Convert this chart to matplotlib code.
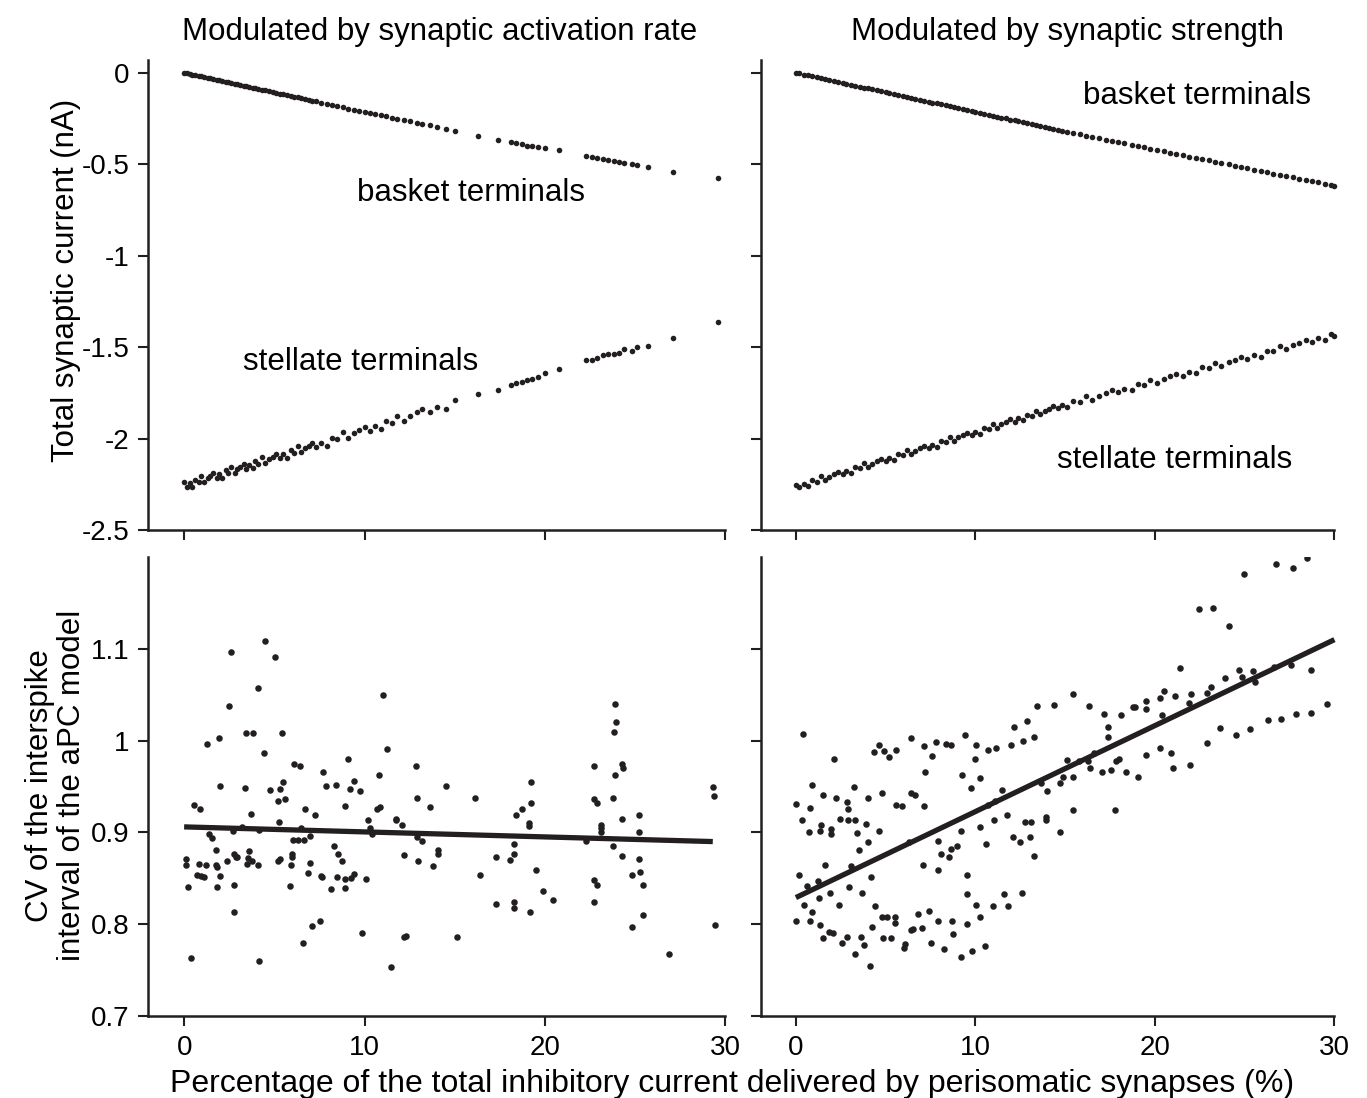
import numpy as np
import matplotlib.pyplot as plt

plt.rcParams['font.family'] = ['Liberation Sans', 'DejaVu Sans']
plt.rcParams['axes.unicode_minus'] = False

ink = '#231f20'

# top row, left: modulated by activation rate
top_rate_pct = [0.00, 0.15, 0.30, 0.45, 0.60, 0.80, 0.95, 1.10, 1.30, 1.45, 1.60, 1.80, 1.95, 2.10, 2.30,
                2.45, 2.60, 2.80, 2.95, 3.10, 3.30, 3.45, 3.60, 3.80, 3.95, 4.10, 4.30, 4.50, 4.70, 4.90,
                5.10, 5.30, 5.50, 5.70, 5.90, 6.10, 6.30, 6.50, 6.70, 6.90, 7.10, 7.30, 7.60, 7.90, 8.20,
                8.50, 8.80, 9.10, 9.40, 9.70, 10.00, 10.30, 10.60, 10.90, 11.20, 11.50, 11.80, 12.20, 12.50,
                12.90, 13.20, 13.60, 14.00, 14.50, 15.00, 16.30, 17.40, 18.10, 18.40, 18.70, 19.00, 19.30,
                19.60, 20.00, 20.80, 22.30, 22.60, 22.90, 23.20, 23.50, 23.80, 24.10, 24.40, 24.80, 25.10,
                25.70, 27.10, 29.60]
basket_rate = [0.000, -0.003, -0.006, -0.010, -0.013, -0.017, -0.020, -0.024, -0.028, -0.031, -0.034, -0.039,
               -0.042, -0.045, -0.049, -0.053, -0.056, -0.060, -0.063, -0.067, -0.071, -0.074, -0.077, -0.082,
               -0.085, -0.088, -0.092, -0.097, -0.101, -0.105, -0.110, -0.114, -0.118, -0.123, -0.127, -0.131,
               -0.135, -0.140, -0.144, -0.148, -0.153, -0.157, -0.163, -0.170, -0.176, -0.183, -0.189, -0.196,
               -0.202, -0.209, -0.215, -0.221, -0.227, -0.233, -0.239, -0.245, -0.251, -0.259, -0.265, -0.273,
               -0.279, -0.287, -0.295, -0.305, -0.318, -0.345, -0.367, -0.380, -0.386, -0.392, -0.398, -0.403,
               -0.408, -0.413, -0.424, -0.457, -0.462, -0.468, -0.473, -0.478, -0.483, -0.489, -0.494, -0.501,
               -0.506, -0.516, -0.540, -0.576]
stellate_rate = [-2.238, -2.264, -2.243, -2.264, -2.225, -2.238, -2.203, -2.239, -2.217, -2.203, -2.190, -2.214,
                 -2.193, -2.215, -2.174, -2.188, -2.154, -2.187, -2.167, -2.153, -2.138, -2.164, -2.143, -2.163,
                 -2.124, -2.138, -2.102, -2.136, -2.114, -2.099, -2.084, -2.108, -2.086, -2.106, -2.065, -2.078,
                 -2.042, -2.076, -2.054, -2.039, -2.024, -2.048, -2.023, -2.039, -1.995, -2.005, -1.966, -1.997,
                 -1.972, -1.954, -1.936, -1.957, -1.932, -1.949, -1.905, -1.915, -1.876, -1.904, -1.879, -1.857,
                 -1.839, -1.857, -1.829, -1.840, -1.790, -1.758, -1.734, -1.705, -1.697, -1.690, -1.679, -1.672,
                 -1.661, -1.640, -1.620, -1.572, -1.568, -1.558, -1.545, -1.540, -1.535, -1.532, -1.513, -1.519,
                 -1.500, -1.492, -1.452, -1.364]

# top row, right: modulated by synaptic strength
top_strength_pct = [0.00, 0.20, 0.45, 0.70, 0.90, 1.15, 1.40, 1.60, 1.85, 2.10, 2.35, 2.60, 2.80, 3.05, 3.30,
                    3.55, 3.80, 4.00, 4.25, 4.50, 4.75, 5.00, 5.20, 5.45, 5.70, 5.95, 6.20, 6.40, 6.65, 6.90,
                    7.15, 7.40, 7.60, 7.85, 8.10, 8.35, 8.60, 8.80, 9.05, 9.30, 9.55, 9.80, 10.00, 10.25, 10.50,
                    10.75, 11.00, 11.20, 11.45, 11.70, 11.95, 12.20, 12.40, 12.65, 12.90, 13.15, 13.40, 13.60,
                    13.85, 14.10, 14.35, 14.60, 14.85, 15.10, 15.45, 15.80, 16.15, 16.50, 16.90, 17.25, 17.60,
                    17.95, 18.30, 18.70, 19.05, 19.40, 19.75, 20.10, 20.50, 20.85, 21.20, 21.55, 21.90, 22.30,
                    22.65, 23.00, 23.35, 23.70, 24.10, 24.45, 24.80, 25.15, 25.50, 25.90, 26.25, 26.60, 26.95,
                    27.30, 27.70, 28.05, 28.40, 28.75, 29.10, 29.50, 29.80, 30.00]
basket_strength = [0.000, -0.004, -0.010, -0.015, -0.019, -0.025, -0.030, -0.034, -0.040, -0.045, -0.050, -0.056,
                   -0.060, -0.065, -0.071, -0.076, -0.081, -0.086, -0.091, -0.096, -0.102, -0.107, -0.111, -0.117,
                   -0.122, -0.127, -0.133, -0.137, -0.142, -0.148, -0.153, -0.158, -0.163, -0.168, -0.173, -0.179,
                   -0.184, -0.188, -0.194, -0.199, -0.204, -0.210, -0.214, -0.219, -0.225, -0.230, -0.235, -0.240,
                   -0.245, -0.250, -0.256, -0.261, -0.265, -0.271, -0.276, -0.281, -0.287, -0.291, -0.296, -0.302,
                   -0.307, -0.312, -0.318, -0.323, -0.330, -0.337, -0.344, -0.351, -0.359, -0.366, -0.372, -0.379,
                   -0.386, -0.394, -0.401, -0.408, -0.415, -0.422, -0.430, -0.437, -0.444, -0.451, -0.458, -0.466,
                   -0.472, -0.479, -0.486, -0.493, -0.501, -0.508, -0.515, -0.522, -0.529, -0.537, -0.544, -0.551,
                   -0.558, -0.565, -0.572, -0.579, -0.586, -0.593, -0.600, -0.608, -0.614, -0.618]
stellate_strength = [-2.253, -2.267, -2.249, -2.259, -2.229, -2.235, -2.207, -2.228, -2.210, -2.196, -2.183,
                     -2.195, -2.178, -2.189, -2.157, -2.163, -2.135, -2.156, -2.138, -2.124, -2.111, -2.123,
                     -2.106, -2.117, -2.085, -2.091, -2.063, -2.084, -2.066, -2.052, -2.039, -2.051, -2.034,
                     -2.045, -2.013, -2.019, -1.991, -2.012, -1.994, -1.980, -1.967, -1.979, -1.962, -1.973,
                     -1.941, -1.947, -1.919, -1.940, -1.922, -1.908, -1.895, -1.907, -1.890, -1.901, -1.869,
                     -1.875, -1.847, -1.868, -1.850, -1.836, -1.823, -1.835, -1.817, -1.827, -1.795, -1.799,
                     -1.770, -1.788, -1.767, -1.752, -1.737, -1.748, -1.728, -1.736, -1.703, -1.707, -1.678,
                     -1.696, -1.675, -1.660, -1.645, -1.656, -1.636, -1.644, -1.611, -1.615, -1.586, -1.604,
                     -1.583, -1.568, -1.553, -1.564, -1.544, -1.552, -1.519, -1.523, -1.494, -1.512, -1.491,
                     -1.476, -1.461, -1.472, -1.452, -1.460, -1.429, -1.437]

# bottom row, left: CV vs percentage (activation rate)
cv_rate_pct = [4.50, 2.61, 5.02, 4.12, 2.46, 1.25, 1.93, 3.44, 3.79, 5.42, 4.41, 6.10, 6.40, 9.10, 7.67, 1.97,
               3.40, 4.76, 5.30, 5.50, 7.87, 8.44, 9.40, 9.17, 0.53, 0.88, 5.22, 5.59, 3.73, 6.69, 7.26, 8.94,
               5.26, 3.18, 2.72, 4.16, 6.49, 1.40, 1.54, 6.01, 6.29, 6.64, 6.95, 1.77, 0.11, 0.11, 0.83, 1.21,
               1.78, 1.80, 2.37, 2.76, 2.87, 2.94, 3.59, 3.53, 3.49, 3.77, 4.08, 5.22, 5.30, 5.92, 5.98, 5.98,
               8.29, 8.55, 8.77, 6.97, 0.74, 0.92, 1.12, 1.97, 1.84, 0.20, 2.76, 5.85, 6.86, 7.58, 7.65, 8.46,
               8.16, 8.94, 8.94, 9.25, 9.43, 2.78, 7.10, 7.54, 6.58, 0.37, 4.16,
               11.03, 11.27, 12.83, 10.79, 9.76, 14.54, 12.89, 16.11, 19.23, 19.23, 18.74, 18.37, 19.12, 19.12,
               13.61, 10.68, 10.87, 10.19, 11.73, 11.75, 12.10, 10.30, 10.39, 12.89, 13.16, 18.28, 18.28, 18.04,
               17.30, 12.19, 12.96, 14.05, 14.05, 13.81, 16.40, 19.51, 10.06, 19.91, 20.46, 17.28, 18.28, 18.28,
               19.16, 9.85, 12.19, 12.28, 15.15, 11.49,
               23.88, 23.92, 23.85, 22.74, 24.29, 24.31, 23.90, 22.74, 22.91, 23.77, 24.25, 25.21, 25.21, 29.33,
               29.38, 23.11, 23.11, 23.11, 22.28, 23.75, 24.27, 25.21, 24.80, 25.24, 22.69, 22.89, 25.45, 22.69,
               25.43, 24.80, 29.45, 26.86]
cv_rate = [1.109, 1.096, 1.091, 1.057, 1.038, 0.996, 1.003, 1.008, 1.008, 1.008, 0.987, 0.974, 0.972, 0.980,
           0.966, 0.951, 0.948, 0.946, 0.947, 0.955, 0.951, 0.952, 0.956, 0.947, 0.930, 0.925, 0.934, 0.936,
           0.920, 0.925, 0.919, 0.929, 0.911, 0.906, 0.902, 0.903, 0.905, 0.898, 0.894, 0.892, 0.892, 0.892,
           0.896, 0.881, 0.871, 0.864, 0.866, 0.864, 0.865, 0.862, 0.869, 0.877, 0.873, 0.873, 0.880, 0.872,
           0.866, 0.869, 0.865, 0.869, 0.871, 0.865, 0.877, 0.873, 0.885, 0.877, 0.869, 0.867, 0.854, 0.852,
           0.851, 0.853, 0.841, 0.840, 0.843, 0.842, 0.856, 0.853, 0.851, 0.851, 0.838, 0.839, 0.849, 0.850,
           0.855, 0.813, 0.798, 0.804, 0.779, 0.763, 0.760,
           1.050, 0.991, 0.972, 0.963, 0.945, 0.950, 0.937, 0.938, 0.955, 0.932, 0.926, 0.919, 0.910, 0.907,
           0.928, 0.926, 0.928, 0.914, 0.915, 0.914, 0.908, 0.905, 0.898, 0.895, 0.891, 0.887, 0.877, 0.870,
           0.873, 0.875, 0.869, 0.881, 0.877, 0.863, 0.854, 0.859, 0.849, 0.836, 0.826, 0.822, 0.824, 0.818,
           0.813, 0.790, 0.786, 0.787, 0.786, 0.753,
           1.040, 1.020, 1.009, 0.972, 0.974, 0.970, 0.963, 0.936, 0.932, 0.938, 0.915, 0.919, 0.900, 0.949,
           0.940, 0.908, 0.905, 0.900, 0.891, 0.885, 0.874, 0.871, 0.854, 0.857, 0.848, 0.843, 0.843, 0.824,
           0.810, 0.797, 0.799, 0.768]
fit_rate_pct = [0.0, 29.3]
fit_rate_cv = [0.906, 0.890]

# bottom row, right: CV vs percentage (synaptic strength)
cv_strength_pct = [0.42, 2.14, 6.42, 4.34, 4.65, 4.91, 5.17, 5.57, 7.14, 7.79, 7.61, 8.38, 8.62, 9.40, 9.25,
                   7.22, 0.92, 0.03, 1.49, 2.25, 2.82, 3.25, 4.02, 4.78, 6.42, 6.63, 5.59, 5.93, 7.13, 0.81,
                   2.93, 0.33, 2.47, 2.93, 3.30, 3.93, 1.38, 1.36, 1.94, 1.96, 0.72, 3.43, 4.61, 9.18, 3.99,
                   3.54, 6.28, 7.94, 8.95, 8.64, 8.07, 8.53, 1.61, 3.08, 7.09, 7.90, 0.16, 0.61, 1.25, 4.17,
                   2.97, 1.88, 1.27, 3.71, 0.44, 2.42, 0.88, 4.39, 0.03, 0.79, 1.35, 4.78, 5.06, 5.54, 5.54,
                   6.83, 7.40, 7.92, 8.68, 1.83, 2.07, 1.53, 2.86, 3.62, 4.23, 4.87, 5.28, 6.39, 6.52, 7.02,
                   2.55, 3.78, 3.27, 6.09, 6.02, 7.50, 8.27, 8.77, 9.18, 4.15,
                   15.44, 13.44, 14.40, 16.32, 12.17, 12.89, 17.14, 17.36, 17.38, 18.13, 18.78, 18.87, 19.52,
                   19.52, 20.28, 20.50, 20.40, 10.01, 9.99, 10.71, 11.17, 11.97, 12.67, 13.29, 10.28, 9.73,
                   11.47, 13.68, 14.00, 14.72, 14.88, 15.12, 15.44, 15.79, 16.25, 16.40, 16.62, 17.08, 17.56,
                   17.82, 18.02, 18.41, 19.04, 19.50, 20.28, 10.71, 11.10, 11.78, 10.23, 11.02, 10.60, 12.11,
                   12.50, 12.78, 13.09, 13.05, 13.29, 13.96, 13.96, 14.70, 15.44, 17.80, 9.51, 9.51, 10.04,
                   9.56, 10.28, 10.97, 11.61, 11.82, 12.57, 9.82, 10.56,
                   26.77, 27.70, 28.46, 24.98, 22.45, 23.23, 24.14, 21.37, 21.14, 21.99, 21.88, 22.92, 23.14,
                   23.90, 24.69, 24.84, 25.45, 25.59, 26.61, 27.59, 28.68, 20.92, 21.03, 21.97, 22.92, 23.64,
                   24.52, 25.28, 26.28, 27.02, 27.87, 28.70, 29.60]
cv_strength = [1.007, 0.980, 1.003, 0.988, 0.995, 0.989, 0.982, 0.990, 0.994, 0.998, 0.983, 0.996, 0.995,
               1.006, 0.962, 0.966, 0.952, 0.931, 0.941, 0.938, 0.933, 0.949, 0.937, 0.943, 0.943, 0.941,
               0.930, 0.929, 0.929, 0.927, 0.925, 0.914, 0.915, 0.913, 0.913, 0.909, 0.908, 0.902, 0.904,
               0.898, 0.900, 0.899, 0.902, 0.901, 0.890, 0.881, 0.889, 0.891, 0.885, 0.882, 0.876, 0.873,
               0.865, 0.863, 0.865, 0.859, 0.854, 0.842, 0.847, 0.851, 0.841, 0.834, 0.829, 0.834, 0.821,
               0.821, 0.813, 0.820, 0.804, 0.804, 0.799, 0.808, 0.808, 0.808, 0.801, 0.811, 0.814, 0.803,
               0.804, 0.792, 0.790, 0.785, 0.786, 0.786, 0.797, 0.785, 0.785, 0.794, 0.795, 0.796, 0.779,
               0.777, 0.768, 0.778, 0.774, 0.779, 0.773, 0.789, 0.764, 0.754,
               1.051, 1.038, 1.039, 1.038, 1.015, 1.021, 1.029, 1.015, 1.004, 1.028, 1.037, 1.037, 1.043,
               1.034, 1.046, 1.054, 1.028, 0.995, 0.980, 0.990, 0.992, 0.995, 1.000, 1.004, 0.959, 0.948,
               0.946, 0.954, 0.945, 0.954, 0.960, 0.979, 0.960, 0.978, 0.978, 0.970, 0.986, 0.966, 0.968,
               0.978, 0.980, 0.966, 0.960, 0.984, 0.992, 0.930, 0.934, 0.919, 0.906, 0.913, 0.887, 0.895,
               0.890, 0.911, 0.911, 0.895, 0.874, 0.917, 0.913, 0.900, 0.924, 0.924, 0.854, 0.833, 0.821,
               0.800, 0.808, 0.820, 0.833, 0.820, 0.834, 0.771, 0.776,
               1.192, 1.188, 1.199, 1.181, 1.143, 1.145, 1.125, 1.079, 1.049, 1.051, 1.041, 1.052, 1.058,
               1.068, 1.077, 1.069, 1.076, 1.064, 1.080, 1.082, 1.077, 0.986, 0.970, 0.973, 0.997, 1.014,
               1.006, 1.013, 1.022, 1.024, 1.029, 1.030, 1.040]
fit_strength_pct = [0.0, 30.0]
fit_strength_cv = [0.829, 1.110]

x_ticks = [0, 10, 20, 30]
x_labels = ['0', '10', '20', '30']
current_ticks = [0, -0.5, -1, -1.5, -2, -2.5]
current_labels = ['0', '-0.5', '-1', '-1.5', '-2', '-2.5']
cv_ticks = [0.7, 0.8, 0.9, 1.0, 1.1]
cv_labels = ['0.7', '0.8', '0.9', '1', '1.1']

fs = 22.5
tick_fs = 20

fig = plt.figure(figsize=(13.67, 10.98), dpi=100)
ax_tl = fig.add_axes([0.1083, 0.5173, 0.4250, 0.4281])
ax_tr = fig.add_axes([0.5566, 0.5173, 0.4222, 0.4281])
ax_bl = fig.add_axes([0.1083, 0.0747, 0.4250, 0.4180])
ax_br = fig.add_axes([0.5566, 0.0747, 0.4222, 0.4180])


def style(ax, xlim, ylim, yticks, ylabels, show_x, show_y):
    for s in ['top', 'right']:
        ax.spines[s].set_visible(False)
    for s in ['left', 'bottom']:
        ax.spines[s].set_linewidth(1.8)
        ax.spines[s].set_color(ink)
    ax.set_xlim(xlim)
    ax.set_ylim(ylim)
    ax.spines['bottom'].set_bounds(xlim[0], 30)
    ax.tick_params(direction='out', length=7.5, width=1.5, color=ink, pad=6)
    ax.set_xticks(x_ticks)
    ax.set_yticks(yticks)
    if show_x:
        ax.set_xticklabels(x_labels, fontsize=tick_fs, color='black')
    else:
        ax.set_xticklabels([])
    if show_y:
        ax.set_yticklabels(ylabels, fontsize=tick_fs, color='black')
    else:
        ax.set_yticklabels([])


style(ax_tl, (-2.0, 30.2), (-2.5, 0.07), current_ticks, current_labels, False, True)
style(ax_tr, (-1.95, 30.2), (-2.5, 0.07), current_ticks, current_labels, False, False)
style(ax_bl, (-2.0, 30.2), (0.7, 1.2), cv_ticks, cv_labels, True, True)
style(ax_br, (-1.95, 30.2), (0.7, 1.2), cv_ticks, cv_labels, True, False)

ax_tl.scatter(top_rate_pct, basket_rate, s=16, color=ink, linewidths=0)
ax_tl.scatter(top_rate_pct, stellate_rate, s=16, color=ink, linewidths=0)
ax_tr.scatter(top_strength_pct, basket_strength, s=16, color=ink, linewidths=0)
ax_tr.scatter(top_strength_pct, stellate_strength, s=16, color=ink, linewidths=0)

ax_bl.scatter(cv_rate_pct, cv_rate, s=22, color=ink, linewidths=0)
ax_bl.plot(fit_rate_pct, fit_rate_cv, color=ink, lw=3.8, solid_capstyle='butt')
ax_br.scatter(cv_strength_pct, cv_strength, s=22, color=ink, linewidths=0)
ax_br.plot(fit_strength_pct, fit_strength_cv, color=ink, lw=3.8, solid_capstyle='butt')

ax_tl.text(15.9, -0.70, 'basket terminals', fontsize=fs, ha='center', va='baseline', color='black')
ax_tl.text(9.76, -1.625, 'stellate terminals', fontsize=fs, ha='center', va='baseline', color='black')
ax_tr.text(22.34, -0.17, 'basket terminals', fontsize=fs, ha='center', va='baseline', color='black')
ax_tr.text(21.1, -2.161, 'stellate terminals', fontsize=fs, ha='center', va='baseline', color='black')

fig.text(0.3219, 0.9636, 'Modulated by synaptic activation rate', fontsize=fs, ha='center', va='baseline')
fig.text(0.7809, 0.9636, 'Modulated by synaptic strength', fontsize=fs, ha='center', va='baseline')
fig.text(0.0483, 0.745, 'Total synaptic current (nA)', fontsize=fs, rotation=90, ha='center', va='center')
fig.text(0.041, 0.285, 'CV of the interspike\ninterval of the aPC model', fontsize=fs, rotation=90,
         ha='center', va='center', multialignment='center', linespacing=1.05)
fig.text(0.5355, 0.0055, 'Percentage of the total inhibitory current delivered by perisomatic synapses (%)',
         fontsize=23, ha='center', va='baseline')

fig.savefig('out.png', dpi=100)
